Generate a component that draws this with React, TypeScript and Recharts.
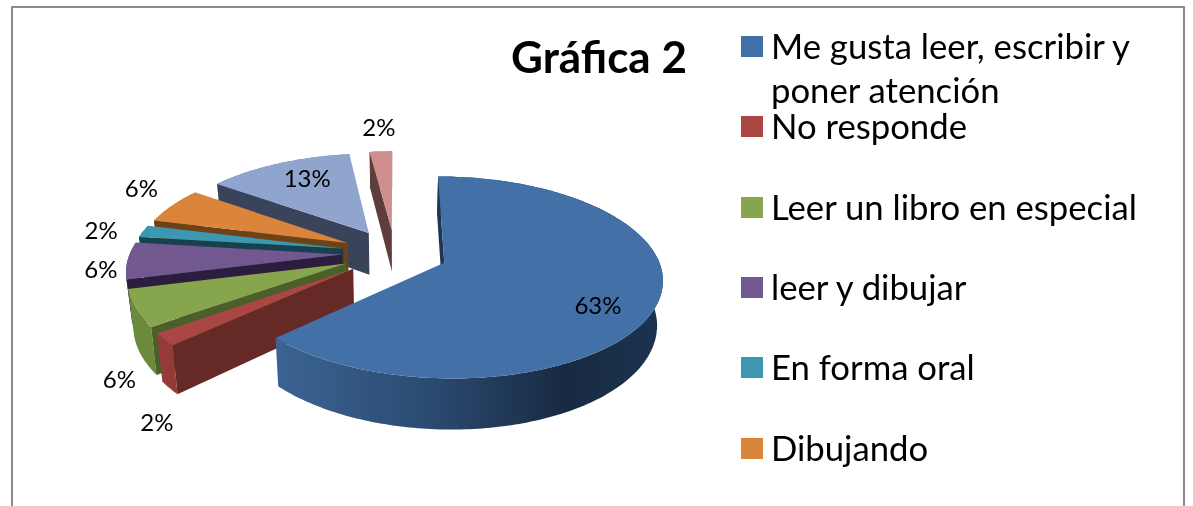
import { PieChart, Pie, Legend } from "recharts"

const CATEGORIAS = [
  "Me gusta leer, escribir y poner atención",
  "No responde",
  "Leer un libro en especial",
  "leer y dibujar",
  "En forma oral",
  "Dibujando",
  "",
  "",
]
const VALORES = [63, 2, 6, 6, 2, 6, 13, 2]
const TOPE = ["#4470A8", "#AA4644", "#87A54C", "#71588F", "#3C97B0", "#DB843C", "#8FA5CE", "#CF8F8D"]
const PARED = ["#1F3550", "#652926", "#4A5F2A", "#2C1D3F", "#18414F", "#6E4217", "#39445A", "#5E3D3D"]
const BORDE = ["url(#bordeAzul)", "#953A38", "#6B8A3C", "#5A4672", "#2C7085", "#A9652C", "#6C7EA0", "#A06E6C"]
// desplazamiento de cada etiqueta respecto al punto medio del borde
const ETIQUETA_DX = [-59, -7.5, -16, -26.6, -42, -31, 29, -2]
const ETIQUETA_DY = [0, 81.6, 70.6, 8.3, -2, -18.5, 14, -24.5]

const LEYENDA = [
  { lineas: ["Me gusta leer, escribir y", "poner atención"], i: 0 },
  { lineas: ["No responde"], i: 1 },
  { lineas: ["Leer un libro en especial"], i: 2 },
  { lineas: ["leer y dibujar"], i: 3 },
  { lineas: ["En forma oral"], i: 4 },
  { lineas: ["Dibujando"], i: 5 },
]
const LEYENDA_Y = [46, 126, 207, 287, 367, 448]

const FUENTE = "Lato, 'Open Sans', sans-serif"

// proyeccion en perspectiva del disco
const EXPLOSION = 53
const CAIDA = 0.453
const KAPPA = 0.00068
const ALTO = 43
const CONVERGE = 0.978

// orden inverso para pintar de atras hacia adelante
const datos = VALORES.map((v, i) => ({ id: i, name: CATEGORIAS[i] || `s${i}`, value: v, fill: TOPE[i] })).reverse()

type P = [number, number]

function proyectar(cx: number, cy: number, X: number, Y: number): P {
  const w = 1 - KAPPA * Y
  return [cx + X / w, cy + (CAIDA * Y) / w]
}

function bajar(cx: number, cy: number, X: number, Y: number): P {
  const w = 1 - KAPPA * Y
  const [x, y] = proyectar(cx, cy, X, Y)
  return [cx + (x - cx) * CONVERGE, y + ALTO / w]
}

const rad = (a: number) => (a * Math.PI) / 180
const camino = (pts: P[]) => "M" + pts.map((p) => `${p[0].toFixed(1)},${p[1].toFixed(1)}`).join("L") + "Z"

function Rebanada(props: any) {
  const { cx, cy, outerRadius: R, startAngle, endAngle, midAngle } = props
  const id = props.id ?? props.payload?.id
  const ox = EXPLOSION * Math.cos(rad(midAngle))
  const oy = -EXPLOSION * Math.sin(rad(midAngle))

  const arco: [number, number][] = []
  const pasos = Math.max(2, Math.ceil(endAngle - startAngle))
  for (let k = 0; k <= pasos; k++) {
    const a = rad(startAngle + ((endAngle - startAngle) * k) / pasos)
    arco.push([ox + R * Math.cos(a), oy - R * Math.sin(a)])
  }
  const arribaArco = arco.map(([X, Y]) => proyectar(cx, cy, X, Y))
  const abajoArco = arco.map(([X, Y]) => bajar(cx, cy, X, Y))
  const apice = proyectar(cx, cy, ox, oy)
  const apiceBajo = bajar(cx, cy, ox, oy)
  const finArriba = arribaArco[arribaArco.length - 1]
  const finAbajo = abajoArco[abajoArco.length - 1]

  return (
    <g>
      <path d={camino([...arribaArco, ...[...abajoArco].reverse()])} fill={BORDE[id]} />
      <path d={camino([apice, finArriba, finAbajo, apiceBajo])} fill={PARED[id]} />
      <path d={camino([apice, ...arribaArco])} fill={TOPE[id]} />
    </g>
  )
}

function Etiqueta(props: any) {
  const { cx, cy, outerRadius: R, midAngle, value } = props
  const id = props.id ?? props.payload?.id
  const r = R + EXPLOSION
  const [x, y] = proyectar(cx, cy, r * Math.cos(rad(midAngle)), -r * Math.sin(rad(midAngle)))
  return (
    <text x={x + ETIQUETA_DX[id]} y={y + ETIQUETA_DY[id]} textAnchor="middle" dominantBaseline="central" fontFamily={FUENTE} fontSize={24} fill="#000">
      {value}%
    </text>
  )
}

function Leyenda() {
  return (
    <div style={{ position: "relative", width: 1193, height: 506 }}>
      {LEYENDA.map((l, n) => (
        <div key={n}>
          <div style={{ position: "absolute", left: 741, top: LEYENDA_Y[n] - 10, width: 22, height: 21, background: TOPE[l.i] }} />
          {l.lineas.map((t, k) => (
            <div key={t} style={{ position: "absolute", left: 771, top: LEYENDA_Y[n] - 22 + k * 44, height: 44, lineHeight: "44px", fontFamily: FUENTE, fontSize: 34.7, color: "#000", whiteSpace: "nowrap" }}>
              {t}
            </div>
          ))}
        </div>
      ))}
    </div>
  )
}

export default function App() {
  return (
    <div style={{ position: "absolute", left: 0, top: 0, width: 1193, height: 506, background: "#fff", overflow: "hidden", filter: "blur(0.5px)" }}>
      <div style={{ position: "absolute", left: 11, top: 6, width: 1170, height: 520, border: "2px solid #8A8A8A" }} />
      <PieChart width={1193} height={506} margin={{ top: 0, right: 0, bottom: 0, left: 0 }}>
        <defs>
          <linearGradient id="bordeAzul" gradientUnits="userSpaceOnUse" x1="280" y1="0" x2="662" y2="0">
            <stop offset="0" stopColor="#3B6393" />
            <stop offset="0.4" stopColor="#2A4A70" />
            <stop offset="0.75" stopColor="#182A42" />
            <stop offset="1" stopColor="#1C3350" />
          </linearGradient>
        </defs>
        <text x={599} y={73} textAnchor="middle" fontFamily={FUENTE} fontWeight={700} fontSize={44} fill="#000">
          Gráfica 2
        </text>
        <Pie
          data={datos}
          dataKey="value"
          nameKey="name"
          cx={395}
          cy={253}
          outerRadius={212}
          startAngle={90}
          endAngle={450}
          stroke="none"
          isAnimationActive={false}
          shape={Rebanada}
          label={Etiqueta}
          labelLine={false}
        />
        <Legend content={<Leyenda />} wrapperStyle={{ position: "absolute", left: 0, top: 0, width: 1193, height: 506 }} />
      </PieChart>
    </div>
  )
}
